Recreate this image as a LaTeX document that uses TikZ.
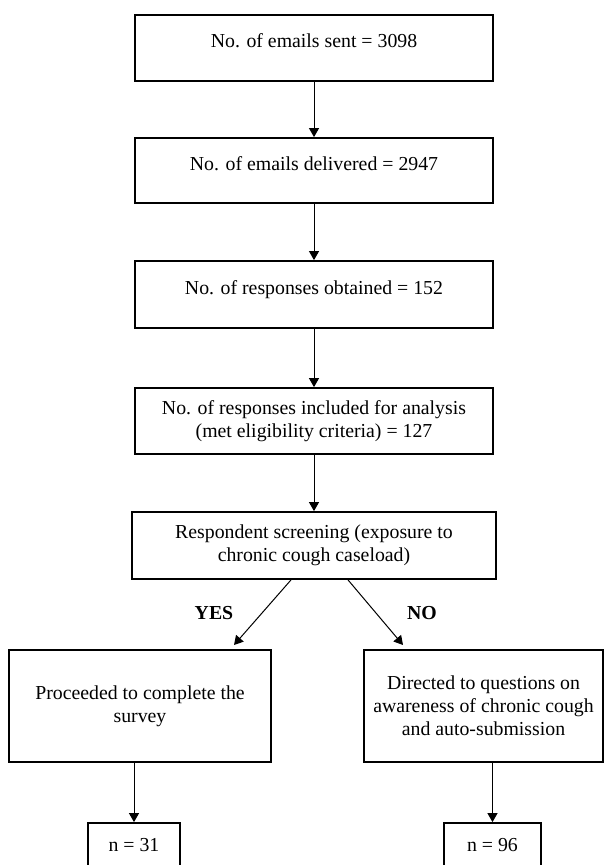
\documentclass[tikz,border=0pt]{standalone}
\usepackage{fontspec}
\setmainfont{Liberation Serif}
\usepackage{tikz}
\usetikzlibrary{arrows.meta}
\tikzset{
  stagebox/.style={draw=black, line width=0.9pt, align=center, inner sep=2pt,
    font=\fontsize{9.9pt}{11.5pt}\selectfont},
  onerow/.style={text height=7pt, text depth=7pt},
  flowarrow/.style={draw=black, line width=0.5pt, -{Triangle[width=5pt,length=4.5pt]}},
  lab/.style={font=\fontsize{9.9pt}{11.5pt}\selectfont\bfseries},
}

\begin{document}
\begin{tikzpicture}[x=0.5pt, y=-0.5pt]
\useasboundingbox (0,0) rectangle (606,865);

% main chain
\node[stagebox, onerow, minimum width=179pt, minimum height=33pt] (sent) at (314,48) {No. of emails sent = 3098};
\node[stagebox, onerow, minimum width=179pt, minimum height=32.5pt] (deliv) at (314,170.5) {No. of emails delivered = 2947};
\node[stagebox, onerow, minimum width=179pt, minimum height=33.5pt] (resp) at (314,294.5) {No. of responses obtained = 152};
\node[stagebox, minimum width=179pt, minimum height=33pt] (incl) at (314,421) {No. of responses included for analysis\\(met eligibility criteria) = 127};
\node[stagebox, minimum width=182pt, minimum height=33.5pt] (screen) at (314,545.5) {Respondent screening (exposure to\\chronic cough caseload)};

\draw[flowarrow] (sent) -- (deliv);
\draw[flowarrow] (deliv) -- (resp);
\draw[flowarrow] (resp) -- (incl);
\draw[flowarrow] (incl) -- (screen);

% split
\node[lab] (yes) at (214,613) {YES};
\node[lab] (no) at (422,613) {NO};
\coordinate (yestip) at (234,645);
\coordinate (notip) at (403,645);
\draw[flowarrow] ([xshift=-11.5pt]screen.south) -- (yestip);
\draw[flowarrow] ([xshift=17pt]screen.south) -- (notip);

% branches
\node[stagebox, minimum width=131pt, minimum height=56pt] (survey) at (140,706) {Proceeded to complete the\\survey};
\node[stagebox, minimum width=119.5pt, minimum height=56pt] (aware) at (483.5,706) {Directed to questions on\\awareness of chronic cough\\and auto-submission};

\node[stagebox, minimum width=46pt, minimum height=22pt] (n31) at (134,845) {n = 31};
\node[stagebox, minimum width=48.5pt, minimum height=22pt] (n96) at (492.5,845) {n = 96};

\draw[flowarrow] (survey.south -| n31.north) -- (n31.north);
\draw[flowarrow] (aware.south -| n96.north) -- (n96.north);
\end{tikzpicture}
\end{document}
